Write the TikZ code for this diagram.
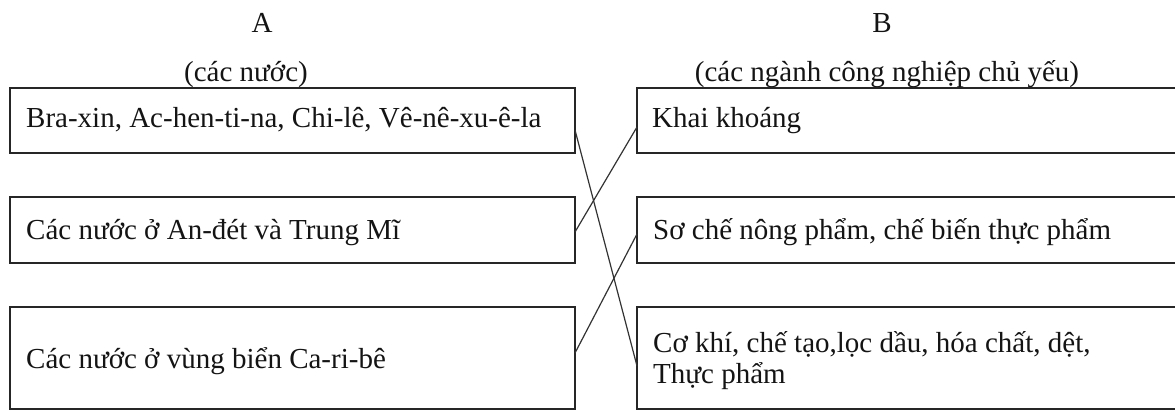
\documentclass[tikz,border=0pt]{standalone}
\usepackage{fontspec}
\setmainfont{Liberation Serif}
\usetikzlibrary{calc}
\begin{document}
\begin{tikzpicture}[x=1pt,y=-1pt,
  box/.style={draw=black!85, line width=1.4pt, rectangle, inner sep=0pt, outer sep=0pt, anchor=north west},
  link/.style={draw=black!80, line width=1.2pt},
  lbl/.style={inner sep=0pt, anchor=base west, font=\fontsize{29}{31}\selectfont, text=black!92},
  head/.style={inner sep=0pt, anchor=base, font=\fontsize{29}{31}\selectfont, text=black!92}]
\useasboundingbox (0,0) rectangle (1175,410);
\clip (0,0) rectangle (1175,410);
\fill[white] (0,0) rectangle (1175,410);

% headings
\node[head] (hA) at (262,32) {A};
\node[head] (hB) at (882,32) {B};
\node[head] (sA) at (246,81) {(các nước)};
\node[head] (sB) at (887,81) {(các ngành công nghiệp chủ yếu)};

% column A boxes
\node[box, minimum width=565pt, minimum height=65pt] (a1) at (10,88) {};
\node[box, minimum width=565pt, minimum height=66pt] (a2) at (10,197) {};
\node[box, minimum width=565pt, minimum height=102pt] (a3) at (10,307) {};

% column B boxes (run past the right edge)
\node[box, minimum width=600pt, minimum height=65pt] (b1) at (637,88) {};
\node[box, minimum width=600pt, minimum height=66pt] (b2) at (637,197) {};
\node[box, minimum width=600pt, minimum height=102pt] (b3) at (637,307) {};

% texts
\node[lbl] (a1t) at (26,127) {Bra-xin, Ac-hen-ti-na, Chi-lê, Vê-nê-xu-ê-la};
\node[lbl] (a2t) at (26,239) {Các nước ở An-đét và Trung Mĩ};
\node[lbl] (a3t) at (26,368) {Các nước ở vùng biển Ca-ri-bê};
\node[lbl] (b1t) at (652,127) {Khai khoáng};
\node[lbl] (b2t) at (653,239) {Sơ chế nông phẩm, chế biến thực phẩm};
\node[lbl] (b3t) at (653,352) {Cơ khí, chế tạo,lọc dầu, hóa chất, dệt,};
\node[lbl] (b3u) at (653,383) {Thực phẩm};

% connectors
\draw[link] ($(a1.north east)+(0,42)$) -- ($(b3.north west)+(0,59)$);
\draw[link] ($(a2.north east)+(0,35)$) -- ($(b1.north west)+(0,39)$);
\draw[link] ($(a3.north east)+(0,46)$) -- ($(b2.north west)+(0,37)$);
\end{tikzpicture}
\end{document}
